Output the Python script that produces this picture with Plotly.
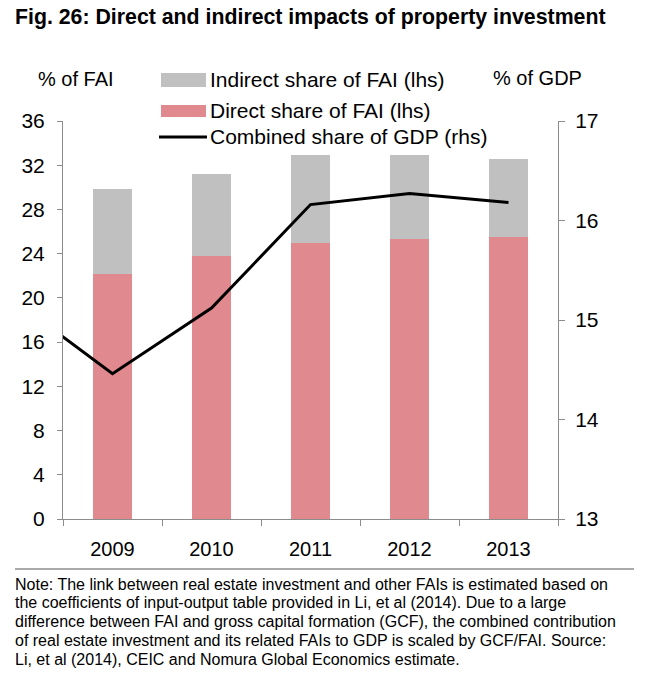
import plotly.graph_objects as go

years = ["2009", "2010", "2011", "2012", "2013"]
direct_share = [22.2, 23.8, 25.0, 25.35, 25.5]
indirect_share = [7.65, 7.45, 7.9, 7.55, 7.05]
line_years = ["2008", "2009", "2010", "2011", "2012", "2013"]
gdp_share = [15.2, 14.46, 15.12, 16.16, 16.27, 16.18]
left_ticks = [0, 4, 8, 12, 16, 20, 24, 28, 32, 36]
right_ticks = [13, 14, 15, 16, 17]
note_lines = [
    "Note: The link between real estate investment and other FAIs is estimated based on",
    "the coefficients of input-output table provided in Li, et al (2014). Due to a large",
    "difference between FAI and gross capital formation (GCF), the combined contribution",
    "of real estate investment and its related FAIs to GDP is scaled by GCF/FAI. Source:",
    "Li, et al (2014), CEIC and Nomura Global Economics estimate.",
]

FONT = "Liberation Sans, Arial, sans-serif"
W, H = 645, 673
L, R, T, B = 63, 558, 121, 519


def px(x):
    return (x - L) / (R - L)


def py(y):
    return (B - y) / (B - T)


fig = go.Figure()
fig.add_trace(go.Bar(x=years, y=direct_share, marker=dict(color="#E0898F", line=dict(width=0)),
                     width=0.4, name="Direct share of FAI (lhs)", showlegend=False))
fig.add_trace(go.Bar(x=years, y=indirect_share, marker=dict(color="#C0C0C0", line=dict(width=0)),
                     width=0.4, name="Indirect share of FAI (lhs)", showlegend=False))
fig.add_trace(go.Scatter(x=line_years, y=gdp_share, yaxis="y2", mode="lines",
                         line=dict(color="#000000", width=3), name="Combined share of GDP (rhs)",
                         showlegend=False))

axis_col = "#8c8c8c"
fig.update_layout(
    width=W, height=H,
    margin=dict(l=L, r=W - R, t=T, b=H - B, pad=0),
    paper_bgcolor="white", plot_bgcolor="white",
    barmode="stack", bargap=0.6,
    font=dict(family=FONT, color="#000000", size=20),
    xaxis=dict(type="category", categoryorder="array", categoryarray=line_years,
               range=[0.5, 5.5], tickson="boundaries", ticks="outside", ticklen=6,
               tickcolor=axis_col, showline=True, linecolor=axis_col, linewidth=1,
               showgrid=False, zeroline=False, tickfont=dict(size=20, family=FONT),
               ticklabelstandoff=12),
    yaxis=dict(range=[0, 36], tickvals=left_ticks, ticks="outside", ticklen=5,
               tickcolor=axis_col, showline=True, linecolor=axis_col, linewidth=1,
               showgrid=False, zeroline=False, tickfont=dict(size=21, family=FONT),
               ticklabelstandoff=8),
    yaxis2=dict(range=[13, 17], tickvals=right_ticks, overlaying="y", side="right",
                ticks="outside", ticklen=6, tickcolor=axis_col, showline=True,
                linecolor=axis_col, linewidth=1, showgrid=False, zeroline=False,
                tickfont=dict(size=21, family=FONT), ticklabelstandoff=6),
)

shapes = [
    dict(type="rect", xref="paper", yref="paper", x0=px(161), x1=px(206), y0=py(87), y1=py(73),
         fillcolor="#C0C0C0", line=dict(width=0)),
    dict(type="rect", xref="paper", yref="paper", x0=px(161), x1=px(206), y0=py(117), y1=py(105),
         fillcolor="#E0898F", line=dict(width=0)),
    dict(type="line", xref="paper", yref="paper", x0=px(159), x1=px(207), y0=py(137), y1=py(137),
         line=dict(color="#000000", width=3)),
    dict(type="line", xref="paper", yref="paper", x0=px(15), x1=px(634), y0=py(569), y1=py(569),
         line=dict(color="#555555", width=1.2)),
]
fig.update_layout(shapes=shapes)

ann = []


def text(x, y, s, size=20, xanchor="left", bold=False, yanchor="middle"):
    ann.append(dict(xref="paper", yref="paper", x=px(x), y=py(y), text=("<b>%s</b>" % s) if bold else s,
                    showarrow=False, xanchor=xanchor, yanchor=yanchor, align="left",
                    font=dict(size=size, family=FONT, color="#000000")))


text(13, 17, "Fig. 26: Direct and indirect impacts of property investment", size=21.3, bold=True)
text(76, 79, "% of FAI", xanchor="center")
text(537, 78, "% of GDP", xanchor="center")
text(208, 79, "Indirect share of FAI (lhs)", size=21)
text(208, 110, "Direct share of FAI (lhs)", size=21)
text(208, 136, "Combined share of GDP (rhs)", size=21)
for i, line in enumerate(note_lines):
    text(13, 584 + 18.75 * i, line, size=16)
fig.update_layout(annotations=ann)

fig.write_html("out.html", config={"displayModeBar": False},
               post_script="document.body.style.margin='0px';")
